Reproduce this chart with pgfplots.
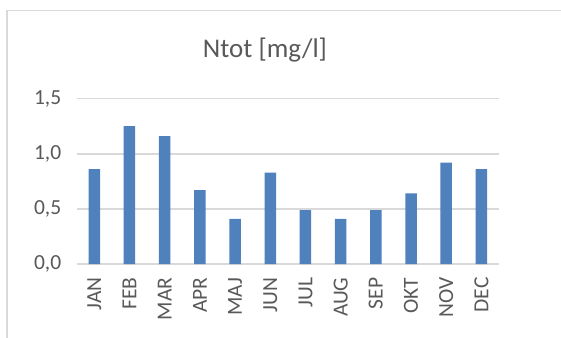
\documentclass[border=0pt]{standalone}
\usepackage{pgfplots}
\pgfplotsset{compat=1.18}
\usepackage{fontspec}
\setmainfont{Carlito}
\definecolor{barblue}{RGB}{79,129,189}
\definecolor{txtgray}{RGB}{89,89,89}
\definecolor{gridgray}{RGB}{217,217,217}
\begin{document}
\begin{tikzpicture}
\useasboundingbox (0pt,0pt) rectangle (561pt,337pt);
\fill[white] (0pt,0pt) rectangle (561pt,337pt);
\draw[gridgray, line width=1.2pt] (7pt,-2pt) -- (7pt,326.3pt) -- (565pt,326.3pt);
\node[txtgray, font=\fontsize{27}{32}\selectfont] at (265pt,287pt) {Ntot [mg/l]};
\begin{axis}[
  at={(76.7pt,73pt)}, anchor=south west,
  scale only axis, width=422.3pt, height=165.3pt,
  xmin=-0.5, xmax=11.5, ymin=0, ymax=1.5,
  ytick={0,0.5,1,1.5},
  xtick={0,...,11},
  xticklabels={JAN,FEB,MAR,APR,MAJ,JUN,JUL,AUG,SEP,OKT,NOV,DEC},
  axis line style={draw=none},
  tick style={draw=none},
  ymajorgrids, major grid style={gridgray, line width=1.4pt},
  /pgf/number format/assume math mode=true,
  /pgf/number format/.cd, fixed, fixed zerofill, precision=1, use comma, /pgfplots/.cd,
  ticklabel style={txtgray, font=\fontsize{21.5}{25}\selectfont},
  yticklabel style={anchor=east, xshift=-12pt},
  xticklabel style={rotate=90, anchor=east, yshift=0pt, xshift=-10pt},
]
\addplot[ybar, bar width=11.5pt, fill=barblue, draw=none] coordinates {
(0,0.86) (1,1.25) (2,1.16) (3,0.67) (4,0.41) (5,0.83)
(6,0.49) (7,0.41) (8,0.49) (9,0.64) (10,0.92) (11,0.86)};
\end{axis}
\end{tikzpicture}
\end{document}
